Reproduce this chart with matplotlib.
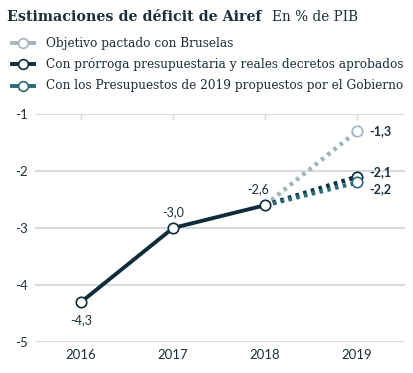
import numpy as np
import matplotlib
matplotlib.use("Agg")
from matplotlib import pyplot as plt
from matplotlib.lines import Line2D

# Data
years = [2016, 2017, 2018, 2019]
historico = [-4.3, -3.0, -2.6]
escenarios = ["Objetivo pactado con Bruselas",
              "Con prórroga presupuestaria y reales decretos aprobados",
              "Con los Presupuestos de 2019 propuestos por el Gobierno"]
valores2019 = [-1.3, -2.1, -2.2]
etiquetas2019 = ["-1,3", "-2,1", "-2,2"]
yticks = [-1, -2, -3, -4, -5]

colores = ["#a3b5c0", "#0e2c3b", "#2b6b78"]
dark = "#0e2c3b"
textcol = "#1d2f3a"
gridcol = "#d5dcdf"

W, H = 414, 373
fig = plt.figure(figsize=(W / 100, H / 100), dpi=100)

# axes placed in pixel units
left, right, top, bottom = 35, 405, 114, 342
ax = fig.add_axes([left / W, 1 - bottom / H, (right - left) / W, (bottom - top) / H])
ax.set_xlim(2015.5, 2019.52)
ax.set_ylim(-5, -1)

for s in ax.spines.values():
    s.set_visible(False)
ax.set_yticks(yticks)
ax.set_yticklabels([str(t) for t in yticks], fontfamily="Lato", fontsize=9.5, color=textcol)
ax.yaxis.grid(True, color=gridcol, linewidth=1.5)
ax.set_axisbelow(True)
ax.tick_params(axis="y", length=0, pad=5)
ax.set_xticks(years)
ax.set_xticklabels([str(y) for y in years], fontfamily="Lato", fontsize=9.5, color=textcol)
ax.tick_params(axis="x", top=True, bottom=False, labeltop=False, labelbottom=True,
               direction="in", length=4, color=gridcol, width=1, pad=5)

# dotted projections 2018 -> 2019
for val, col in zip(valores2019, colores):
    ax.plot([years[2], years[3]], [historico[-1], val], color=col, linewidth=3.2,
            linestyle=(0, (0.8, 1.0)), zorder=3)
    ax.plot(years[3], val, marker="o", markersize=7.5, markerfacecolor="white",
            markeredgecolor=col, markeredgewidth=1.2, linestyle="none", zorder=5)

ax.plot(years[:3], historico, color=dark, linewidth=2.8, zorder=4, solid_capstyle="round")
ax.plot(years[:3], historico, marker="o", markersize=7.5, markerfacecolor="white",
        markeredgecolor=dark, markeredgewidth=1.2, linestyle="none", zorder=6)

# data labels
ax.annotate("-4,3", (years[0], historico[0]), xytext=(0, -9), textcoords="offset points",
            ha="center", va="top", fontfamily="Lato", fontsize=9, color=textcol)
ax.annotate("-3,0", (years[1], historico[1]), xytext=(0, 7), textcoords="offset points",
            ha="center", va="bottom", fontfamily="Lato", fontsize=9, color=textcol)
ax.annotate("-2,6", (years[2], historico[2]), xytext=(-5, 7), textcoords="offset points",
            ha="center", va="bottom", fontfamily="Lato", fontsize=9, color=textcol)
offs = [(9, 0), (9, 3), (9, -5)]
for val, lab, (dx, dy) in zip(valores2019, etiquetas2019, offs):
    ax.annotate(lab, (years[3], val), xytext=(dx, dy), textcoords="offset points",
                ha="left", va="center", fontfamily="Lato", fontsize=9, fontweight="bold",
                color=textcol)

# title
fig.text(7 / W, 1 - 17 / H, "Estimaciones de déficit de Airef", fontfamily="DejaVu Serif",
         fontweight="bold", fontsize=10.3, color=textcol, va="center", ha="left")
fig.text(272 / W, 1 - 17 / H, "En % de PIB", fontfamily="DejaVu Serif",
         fontsize=9.8, color=textcol, va="center", ha="left")

# legend drawn by hand
leg_y = [43, 64, 86]
for yy, col, lab in zip(leg_y, colores, escenarios):
    yf = 1 - yy / H
    fig.add_artist(Line2D([12 / W, 34 / W], [yf, yf], color=col, linewidth=2.8,
                          transform=fig.transFigure))
    fig.add_artist(Line2D([23 / W], [yf], marker="o", markersize=7, markerfacecolor="white",
                          markeredgecolor=col, markeredgewidth=1.2,
                          transform=fig.transFigure))
    fig.text(46 / W, yf, lab, fontfamily="DejaVu Serif", fontsize=8.75, color=textcol,
             va="center", ha="left")

fig.savefig("out.png", dpi=100, facecolor="white")
